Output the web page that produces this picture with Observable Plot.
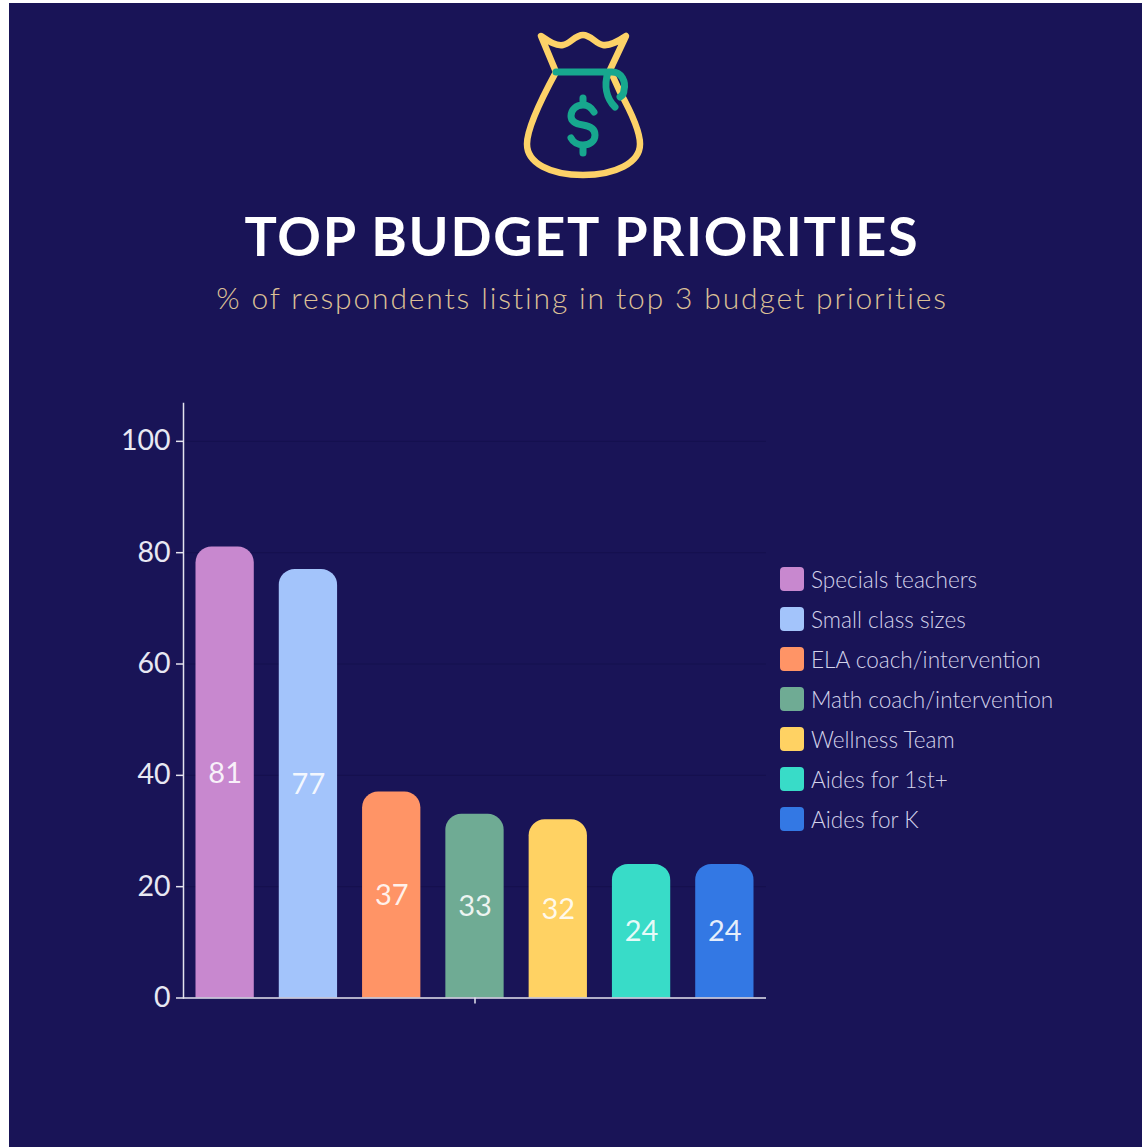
<!DOCTYPE html>
<html>
<head>
<meta charset="utf-8">
<script src="https://cdn.jsdelivr.net/npm/d3@7"></script>
<script src="https://cdn.jsdelivr.net/npm/@observablehq/plot@0.6"></script>
<style>
  html, body { margin: 0; padding: 0; background: #fff; }
  #page { position: absolute; left: 9px; top: 3px; width: 1133px; height: 1144px; background: #191457; overflow: hidden; font-family: Lato, sans-serif; }
  #icon { position: absolute; left: 491px; top: 17px; }
  h1 { position: absolute; left: 0; top: 201px; width: 1146px; margin: 0; text-align: center; font: 700 54px/64px Lato, sans-serif; letter-spacing: 1.75px; color: #fff; }
  h2 { position: absolute; left: 0; top: 276px; width: 1146px; margin: 0; text-align: center; font: 300 30px/36px Lato, sans-serif; letter-spacing: 1.86px; color: #dcc096; }
  #chart { position: absolute; left: 0; top: 357px; }
  #chart svg { background: none; display: block; }
  #legend { position: absolute; left: 771px; top: 556px; }
  .row { position: absolute; left: 0; display: flex; align-items: center; height: 40px; white-space: nowrap; font: 300 22.6px/41px Lato, sans-serif; color: #d3d2ea; }
  .swatch { width: 24px; height: 24px; border-radius: 4px; margin-right: 7px; }
</style>
</head>
<body>
<div id="page">
  <svg id="icon" width="170" height="170" viewBox="0 0 170 170" fill="none" stroke-linecap="round" stroke-linejoin="round">
    <path stroke="#fdd268" stroke-width="6.5" d="M41 16 C50 22,56 26,63 25 C70 24,75 15,83 15 C91 15,96 24,103 25 C110 26,117 22,126 16 L110 50 L120 72 C130 90,140 110,140 124 C140 143,115 155,83 155 C50 155,27 143,27 124 C27 110,38 85,56 52 Z"/>
    <path stroke="#17a78e" stroke-width="7" d="M56 52 H112 C122 52,126 62,124 70 C124 74,122 76,120 77 M108 52 C104 65,106 78,115 87"/>
    <path stroke="#17a78e" stroke-width="7" d="M94 92 C91 87,87 85,83 85 C76 85,71 90,71 96 C71 102,76 104,83 105 C90 106,95 109,95 115 C95 121,90 125,83 125 C78 125,73 122,71 118 M83 78 V85 M83 125 V133"/>
  </svg>
  <h1>TOP BUDGET PRIORITIES</h1>
  <h2>% of respondents listing in top 3 budget priorities</h2>
  <div id="chart"></div>
  <div id="legend"></div>
</div>
<script>
// Survey results: share of respondents naming each item in their top three
const priorities = ["Specials teachers", "Small class sizes", "ELA coach/intervention", "Math coach/intervention", "Wellness Team", "Aides for 1st+", "Aides for K"];
const shares = [81, 77, 37, 33, 32, 24, 24];
const colors = ["#c888cf", "#a3c4fb", "#ff9466", "#6fab94", "#ffd263", "#38dcc8", "#3378e4"];
const yTicks = [0, 20, 40, 60, 80, 100];
const gridLevels = [20, 40, 60, 80, 100];

const rows = priorities.map((name, i) => ({name, share: shares[i]}));
const axisColor = "#e4e3ee";

const chart = Plot.plot({
  width: 1133,
  height: 787,
  marginLeft: 174,
  marginRight: 376,
  marginTop: 43,
  marginBottom: 149.5,
  style: {background: "none", fontFamily: "Lato, sans-serif"},
  x: {type: "band", domain: priorities, paddingInner: 0.3, paddingOuter: 0.15, align: 0.5, round: false, axis: null},
  y: {domain: [0, 106.8], axis: null},
  color: {domain: priorities, range: colors},
  marks: [
    Plot.ruleY(gridLevels, {stroke: "#15104e", strokeWidth: 1}),
    Plot.barY(rows, {x: "name", y: "share", fill: "name", rx1y1: 16, rx2y1: 16}),
    Plot.text(rows, {x: "name", y: d => d.share / 2, dy: 1, text: d => String(d.share), fill: "#fff", fillOpacity: 0.88, fontSize: 29, fontWeight: 400}),
    Plot.axisY({ticks: yTicks, tickSize: 7, tickPadding: 6, fontSize: 28.5, fontWeight: 400, stroke: axisColor, fill: "#e8e8f3", strokeWidth: 1.5, label: null, tickFormat: d => String(d)}),
    Plot.axisX({ticks: [priorities[3]], tickSize: 6, stroke: axisColor, strokeWidth: 1.5, label: null, tickFormat: () => ""}),
    Plot.frame({anchor: "left", stroke: axisColor, strokeWidth: 1.5}),
    Plot.ruleY([0], {stroke: axisColor, strokeWidth: 1.5})
  ]
});
document.getElementById("chart").append(chart);

// Legend rows, one swatch and label per priority
const legend = d3.select("#legend");
priorities.forEach((name, i) => {
  const row = legend.append("div").attr("class", "row").style("top", `${i * 40}px`);
  row.append("div").attr("class", "swatch").style("background", colors[i]);
  row.append("span").text(name);
});
</script>
</body>
</html>
